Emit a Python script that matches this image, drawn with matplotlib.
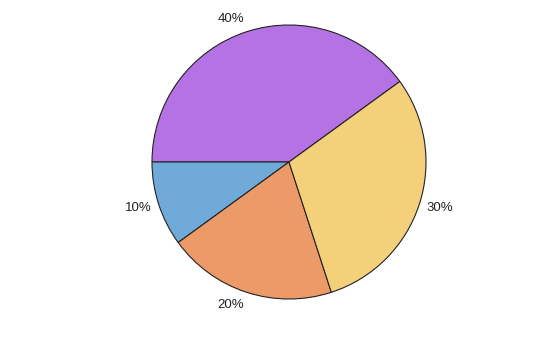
import matplotlib
matplotlib.use("Agg")
import matplotlib.pyplot as plt

values = [40, 10, 20, 30]
labels = ["40%", "10%", "20%", "30%"]
colors = ["#b572e4", "#6faad9", "#ec9a68", "#f5d07b"]

plt.rcParams['font.family'] = ['Liberation Sans', 'DejaVu Sans']

fig = plt.figure(figsize=(5.6, 3.37), dpi=100)
ax = fig.add_axes([152/560, 38/337, 274/560, 274/337])
wedges, texts = ax.pie(values, labels=labels, colors=colors, startangle=36,
                       counterclock=True, labeldistance=1.055, radius=1.0,
                       wedgeprops=dict(edgecolor="#222222", linewidth=0.8),
                       textprops=dict(fontsize=9.5, color="#222222"))
for t in texts:
    x, y = t.get_position()
    if abs(y) > abs(x):
        t.set_va('bottom' if y > 0 else 'top')
    else:
        t.set_va('center_baseline')
ax.set_xlim(-1, 1)
ax.set_ylim(-1, 1)
ax.set_aspect('equal')
ax.axis('off')
fig.savefig("out.png", dpi=100)
